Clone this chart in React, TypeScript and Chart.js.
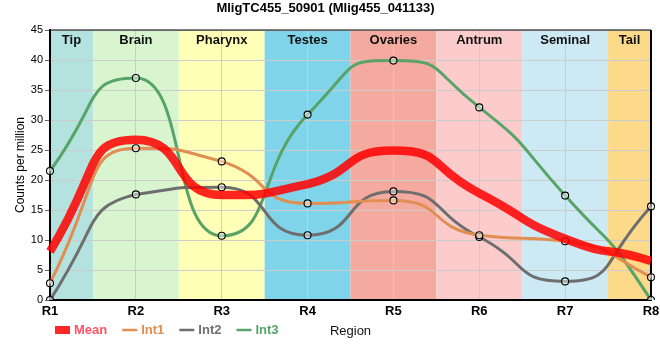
import React, { useEffect, useRef } from "react";
import { Chart, registerables } from "chart.js";

Chart.register(...registerables);

const TITLE = "MligTC455_50901 (Mlig455_041133)";
const REGION_TICKS = ["R1", "R2", "R3", "R4", "R5", "R6", "R7", "R8"];
const REGION_NAMES = ["Tip", "Brain", "Pharynx", "Testes", "Ovaries", "Antrum", "Seminal", "Tail"];
const REGION_COLORS = [
  "rgb(180,226,222)",
  "rgb(216,245,208)",
  "rgb(255,255,183)",
  "rgb(128,212,234)",
  "rgb(244,170,158)",
  "rgb(252,204,204)",
  "rgb(205,234,244)",
  "rgb(253,218,138)",
];

const MEAN = [8.1, 26.7, 17.5, 19.3, 24.9, 17.8, 10.2, 6.5];
const INT1 = [2.8, 25.3, 23.1, 16.1, 16.6, 10.8, 9.8, 3.8];
const INT2 = [0, 17.6, 18.8, 10.8, 18.1, 10.5, 3.1, 15.6];
const INT3 = [21.5, 37, 10.7, 30.9, 39.9, 32.1, 17.4, 0];

const Y_MIN = 0;
const Y_MAX = 45;
const Y_STEP = 5;

const COLOR_MEAN = "rgba(255,0,0,0.85)";
const COLOR_INT1 = "rgb(224,142,82)";
const COLOR_INT2 = "rgb(110,110,110)";
const COLOR_INT3 = "rgb(88,164,104)";

const FONT = "'Liberation Sans', Arial, Helvetica, sans-serif";

// Lengthen the monotone curve handles (smoother plateaus around each region point)
const HANDLE_SCALE = 1.8;
const END_SLOPE_SCALE = 1.25;

const handlesPlugin = {
  id: "longHandles",
  beforeDatasetDraw(chart: any, args: any) {
    const meta = args.meta;
    const line = meta && meta.dataset;
    if (!line || !line.points) return;
    line._pointsUpdated = false;
    line.updateControlPoints(chart.chartArea, meta.indexAxis || "x");
    const pts = line.points;
    const n = pts.length;
    for (let i = 0; i < n; i++) {
      const p = pts[i];
      const c1x = p.cp1x - p.x;
      const c1y = p.cp1y - p.y;
      const c2x = p.cp2x - p.x;
      const c2y = p.cp2y - p.y;
      const e1 = i === n - 1 ? END_SLOPE_SCALE : 1;
      const e2 = i === 0 ? END_SLOPE_SCALE : 1;
      p.cp1x = p.x + c1x * HANDLE_SCALE;
      p.cp1y = p.y + c1y * HANDLE_SCALE * e1;
      p.cp2x = p.x + c2x * HANDLE_SCALE;
      p.cp2y = p.y + c2y * HANDLE_SCALE * e2;
    }
    for (let i = 0; i < n - 1; i++) {
      const a = pts[i];
      const b = pts[i + 1];
      const lo = Math.min(a.y, b.y);
      const hi = Math.max(a.y, b.y);
      a.cp2y = Math.min(hi, Math.max(lo, a.cp2y));
      b.cp1y = Math.min(hi, Math.max(lo, b.cp1y));
    }
    line._path = undefined;
  },
};

const bandsPlugin = {
  id: "bands",
  beforeDraw(chart: any) {
    const { ctx, chartArea, scales } = chart;
    const x = scales.x;
    ctx.save();
    REGION_NAMES.forEach((_, i) => {
      const a = Math.max(chartArea.left, x.getPixelForValue(i - 0.5));
      const b = Math.min(chartArea.right, x.getPixelForValue(i + 0.5));
      ctx.fillStyle = REGION_COLORS[i];
      ctx.fillRect(a, chartArea.top, b - a, chartArea.bottom - chartArea.top);
    });
    ctx.restore();
  },
  beforeDatasetsDraw(chart: any) {
    const { ctx, chartArea, scales } = chart;
    const x = scales.x;
    ctx.save();
    ctx.font = `bold 13px ${FONT}`;
    ctx.fillStyle = "#111";
    ctx.textAlign = "center";
    ctx.textBaseline = "alphabetic";
    REGION_NAMES.forEach((name, i) => {
      const a = Math.max(chartArea.left, x.getPixelForValue(i - 0.5));
      const b = Math.min(chartArea.right, x.getPixelForValue(i + 0.5));
      ctx.fillText(name, (a + b) / 2, chartArea.top + 14);
    });
    ctx.strokeStyle = "#000";
    ctx.lineWidth = 1.2;
    ctx.beginPath();
    ctx.moveTo(chartArea.left, chartArea.top);
    ctx.lineTo(chartArea.right, chartArea.top);
    ctx.stroke();
    ctx.lineWidth = 2;
    ctx.beginPath();
    ctx.moveTo(chartArea.right, chartArea.top);
    ctx.lineTo(chartArea.right, chartArea.bottom);
    ctx.stroke();
    ctx.restore();
  },
};

const legendPlugin = {
  id: "customLegend",
  afterDraw(chart: any) {
    const { ctx } = chart;
    ctx.save();
    ctx.font = `bold 13px ${FONT}`;
    ctx.textBaseline = "middle";
    ctx.textAlign = "left";
    let x = 55;
    const y = 330;
    chart.data.datasets.forEach((ds: any, i: number) => {
      const col = ds.borderColor;
      if (i === 0) {
        ctx.fillStyle = col;
        ctx.fillRect(x, y - 4, 15, 8);
      } else {
        ctx.strokeStyle = col;
        ctx.lineWidth = 2.5;
        ctx.beginPath();
        ctx.moveTo(x, y);
        ctx.lineTo(x + 15, y);
        ctx.stroke();
      }
      ctx.fillStyle = i === 0 ? "rgba(255,40,60,0.8)" : col;
      ctx.fillText(ds.label, x + 19, y);
      const w = ctx.measureText(ds.label).width;
      x += 19 + w + 15;
    });
    ctx.restore();
  },
};

export default function App() {
  const ref = useRef<HTMLCanvasElement | null>(null);
  useEffect(() => {
    document.body.style.margin = "0";
    if (!ref.current) return;
    Chart.defaults.font.family = FONT;
    const pointOpts = {
      pointRadius: 3.5,
      pointBorderWidth: 1.1,
      pointBorderColor: "#000",
      pointBackgroundColor: "rgba(255,255,255,0.45)",
      pointHoverRadius: 3.5,
    };
    const chart = new Chart(ref.current, {
      type: "line",
      data: {
        labels: REGION_TICKS,
        datasets: [
          {
            label: "Mean",
            data: MEAN,
            borderColor: COLOR_MEAN,
            backgroundColor: COLOR_MEAN,
            borderWidth: 8.5,
            pointRadius: 0,
            cubicInterpolationMode: "monotone",
          },
          {
            label: "Int1",
            data: INT1,
            borderColor: COLOR_INT1,
            backgroundColor: COLOR_INT1,
            borderWidth: 3,
            cubicInterpolationMode: "monotone",
            ...pointOpts,
          },
          {
            label: "Int2",
            data: INT2,
            borderColor: COLOR_INT2,
            backgroundColor: COLOR_INT2,
            borderWidth: 3,
            cubicInterpolationMode: "monotone",
            ...pointOpts,
          },
          {
            label: "Int3",
            data: INT3,
            borderColor: COLOR_INT3,
            backgroundColor: COLOR_INT3,
            borderWidth: 3,
            cubicInterpolationMode: "monotone",
            ...pointOpts,
          },
        ],
      },
      options: {
        responsive: false,
        animation: false,
        layout: { padding: { left: 0, right: 9, top: 0, bottom: 0 } },
        plugins: {
          legend: { display: false },
          tooltip: { enabled: false },
          title: {
            display: true,
            text: TITLE,
            color: "#000",
            font: { size: 13, weight: "bold", family: FONT },
            padding: { top: 1, bottom: 13.4 },
          },
        },
        scales: {
          x: {
            type: "category",
            offset: false,
            grid: { color: "rgb(204,204,204)", lineWidth: 1, drawTicks: false },
            border: { color: "#000", width: 2 },
            ticks: { color: "#000", padding: 4, font: { size: 13, weight: "bold", family: FONT } },
            title: {
              display: true,
              text: "Region",
              color: "#111",
              font: { size: 13, family: FONT },
              padding: { top: 0, bottom: 21.2 },
            },
            afterFit(scale: any) {
              scale.height = 60;
              scale.paddingRight = 0;
              scale.paddingLeft = 0;
            },
          },
          y: {
            min: Y_MIN,
            max: Y_MAX,
            grid: { color: "rgb(204,204,204)", lineWidth: 1, drawTicks: true, tickLength: 5, tickColor: "#666" },
            border: { color: "#000", width: 2 },
            ticks: { stepSize: Y_STEP, color: "#000", padding: 2, font: { size: 11, family: FONT } },
            title: {
              display: true,
              text: "Counts per million",
              color: "#000",
              font: { size: 12, family: FONT },
              padding: { top: 13.5, bottom: 0 },
            },
            afterFit(scale: any) {
              scale.width = 50;
            },
          },
        },
      },
      plugins: [bandsPlugin, handlesPlugin, legendPlugin],
    } as any);
    return () => chart.destroy();
  }, []);
  return (
    <div style={{ width: 660, height: 360 }}>
      <canvas ref={ref} width={660} height={360} style={{ width: 660, height: 360 }} />
    </div>
  );
}
